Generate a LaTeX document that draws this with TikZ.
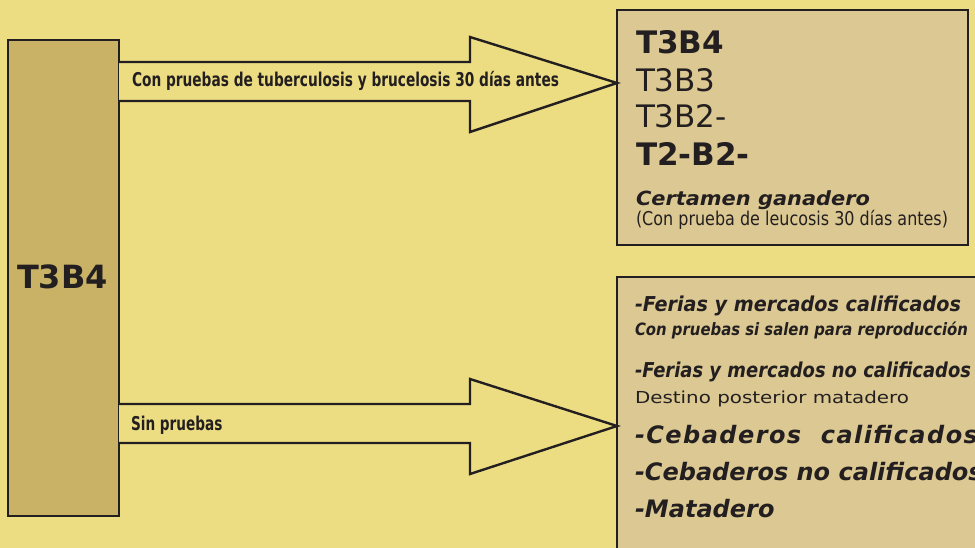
\documentclass[tikz,border=0pt]{standalone}
\usepackage{fontspec}
\usepackage{graphicx}
\setmainfont{DejaVu Sans}
\newfontfamily\dvls[LetterSpace=6]{DejaVu Sans}
\usetikzlibrary{calc}
\definecolor{bg}{HTML}{EDDD82}
\definecolor{leftfill}{HTML}{C9B266}
\definecolor{boxfill}{HTML}{DBC892}
\definecolor{ink}{HTML}{231F20}
\newcommand{\fitw}[2]{\resizebox{#1}{\height}{#2}}
\begin{document}
\begin{tikzpicture}[x=1pt,y=-1pt,
  boxline/.style={draw=ink, line width=2.6pt, inner sep=0pt, outer sep=0pt, anchor=north west},
  txt/.style={anchor=base west, inner sep=0pt, outer sep=0pt, text=ink},
  bigarrow/.style={draw=ink, line width=2.4pt, fill=bg, line join=miter}]
\useasboundingbox (0,0) rectangle (975,548);
\fill[bg] (0,0) rectangle (975,548);
\begin{scope}
\clip (0,0) rectangle (975,548);
% boxes
\node[boxline, fill=leftfill, minimum width=111pt, minimum height=476pt] (src) at (8,40) {};
\node[boxline, fill=boxfill, minimum width=351pt, minimum height=235pt] (dst1) at (617,10) {};
\node[boxline, fill=boxfill, minimum width=380pt, minimum height=300pt] (dst2) at (617,277) {};
% arrows
\coordinate (tip1) at (dst1.west |- 0,83);
\coordinate (tip2) at (dst2.west |- 0,426);
\draw[bigarrow] (src.east |- 0,62) -- ($(tip1)+(-147,-21)$) -- ($(tip1)+(-147,-46)$) -- (tip1)
  -- ($(tip1)+(-147,49)$) -- ($(tip1)+(-147,18)$) -- (src.east |- 0,101);
\draw[bigarrow] (src.east |- 0,404) -- ($(tip2)+(-147,-22)$) -- ($(tip2)+(-147,-47)$) -- (tip2)
  -- ($(tip2)+(-147,48)$) -- ($(tip2)+(-147,17)$) -- (src.east |- 0,443);
% left label
\node[txt, font=\bfseries\fontsize{32}{36}\selectfont] (srclabel) at (17,289) {T3B4};
% arrow labels
\node[txt, font=\bfseries\fontsize{19}{22}\selectfont] (lab1) at (132,87)
  {\fitw{427pt}{Con pruebas de tuberculosis y brucelosis 30 días antes}};
\node[txt, font=\bfseries\fontsize{19}{22}\selectfont] (lab2) at (131,430)
  {\fitw{91.5pt}{Sin pruebas}};
% top-right box texts
\node[txt, font=\bfseries\fontsize{31}{36}\selectfont] (a1) at (636,54) {T3B4};
\node[txt, font=\fontsize{31}{36}\selectfont] (a2) at (636,92) {T3B3};
\node[txt, font=\fontsize{31}{36}\selectfont] (a3) at (636,128) {T3B2-};
\node[txt, font=\bfseries\fontsize{31}{36}\selectfont] (a4) at (636,166) {T2-B2-};
\node[txt, font=\bfseries\itshape\fontsize{19.5}{22}\selectfont] (a5) at (636,206)
  {\fitw{234pt}{Certamen ganadero}};
\node[txt, font=\fontsize{19}{22}\selectfont] (a6) at (636,226)
  {\fitw{312pt}{(Con prueba de leucosis 30 días antes)}};
% bottom-right box texts
\node[txt, font=\bfseries\itshape\fontsize{20.5}{24}\selectfont] (b1) at (635,311)
  {\fitw{326pt}{-Ferias y mercados calificados}};
\node[txt, font=\bfseries\itshape\fontsize{17}{20}\selectfont] (b2) at (635,335)
  {\fitw{333pt}{Con pruebas si salen para reproducción}};
\node[txt, font=\bfseries\itshape\fontsize{20.5}{24}\selectfont] (b3) at (635,377)
  {\fitw{336pt}{-Ferias y mercados no calificados}};
\node[txt, font=\fontsize{16.5}{20}\selectfont] (b4) at (635,403)
  {\fitw{274pt}{Destino posterior matadero}};
\node[txt, font=\dvls\bfseries\itshape\fontsize{24}{28}\selectfont] (b5) at (635,443)
  {-Cebaderos\ \ calificados};
\node[txt, font=\bfseries\itshape\fontsize{24}{28}\selectfont] (b6) at (635,480)
  {-Cebaderos no calificados};
\node[txt, font=\bfseries\itshape\fontsize{24}{28}\selectfont] (b7) at (635,517)
  {-Matadero};
\end{scope}
\end{tikzpicture}
\end{document}
